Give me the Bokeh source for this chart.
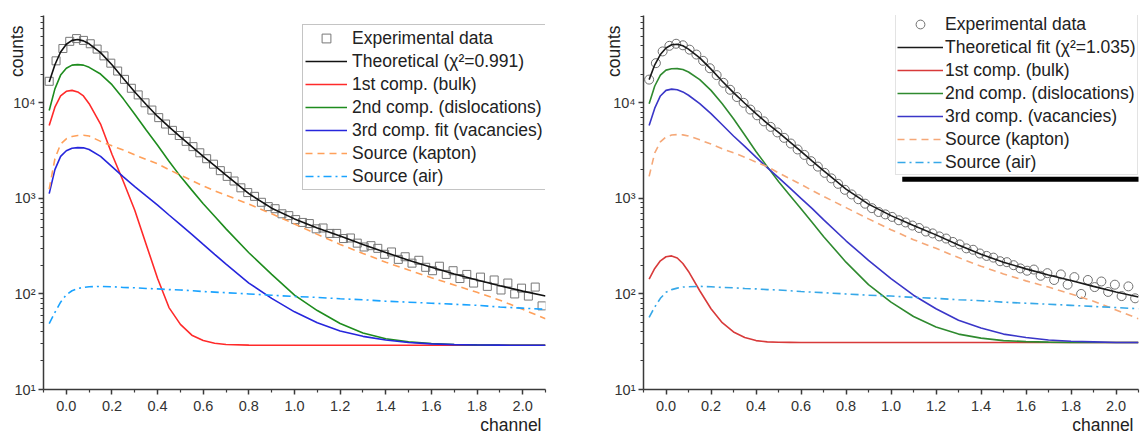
from bokeh.plotting import figure
from bokeh.layouts import row
from bokeh.models import Range1d, FixedTicker, BoxAnnotation, PrintfTickFormatter, Title
from bokeh.embed import file_html
from bokeh.resources import INLINE

# ---------------- data ----------------
comp_x = [-0.075, -0.05, -0.025, 0.0, 0.025, 0.05, 0.075, 0.1, 0.15, 0.2, 0.25, 0.3, 0.35,
          0.4, 0.45, 0.5, 0.55, 0.6, 0.65, 0.7, 0.8, 0.9, 1.0, 1.1, 1.2, 1.3, 1.4, 1.5, 1.6,
          1.7, 1.8, 1.9, 2.0, 2.1]

# left panel components
L_theory = [16500, 25000, 34000, 41000, 45000, 46000, 44500, 41500, 33500, 25000, 18000, 13000,
            9600, 7200, 5600, 4400, 3480, 2750, 2200, 1750, 1120, 790, 610, 490, 405, 330, 272,
            225, 190, 162, 140, 122, 107, 95]
L_bulk = [5800, 9000, 11800, 13200, 13500, 13000, 11800, 9800, 6000, 2900, 1500, 750, 330, 145,
          72, 48, 37, 32.5, 30.5, 29.6, 29.1, 29, 29, 29, 29, 29, 29, 29, 29, 29, 29, 29, 29, 29]
L_disl = [8300, 14000, 19500, 23000, 24800, 25100, 24800, 23500, 20000, 15500, 11000, 7600, 5200,
          3600, 2450, 1700, 1220, 880, 650, 480, 270, 160, 97, 67, 49, 39, 34, 31.5, 30.3, 29.6,
          29.3, 29.1, 29, 29]
L_vac = [1120, 2000, 2750, 3150, 3350, 3400, 3380, 3250, 2750, 2150, 1680, 1330, 1060, 850, 670,
         530, 420, 330, 260, 205, 130, 90, 65, 50, 41, 36, 33, 31, 30, 29.5, 29.2, 29.1, 29, 29]
L_kapton = [1250, 2600, 3700, 4200, 4450, 4550, 4570, 4500, 3950, 3550, 3200, 2850, 2550, 2300,
            2000, 1750, 1540, 1350, 1200, 1080, 870, 690, 540, 420, 330, 265, 215, 178, 148, 124,
            104, 86, 69, 55]
L_air = [49, 64, 82, 98, 108, 114, 117, 119, 120, 119, 117, 116, 114, 113, 111, 110, 108, 106,
         104.5, 103, 100, 97, 94, 92, 89, 87, 84, 82, 80, 78, 76, 73, 71, 69]

# right panel components
R_theory = [17500, 25000, 32000, 37500, 40500, 41000, 39500, 36500, 29500, 22500, 16800, 12800,
            9900, 7700, 6100, 4900, 3900, 3100, 2450, 1950, 1250, 870, 660, 520, 415, 325, 260,
            215, 183, 158, 138, 120, 105, 93]
R_bulk = [143, 185, 222, 245, 250, 238, 208, 172, 108, 70, 50, 40, 35, 32.5, 31.5, 31.2, 31.1,
          31, 31, 31, 31, 31, 31, 31, 31, 31, 31, 31, 31, 31, 31, 31, 31, 31]
R_disl = [9800, 15000, 19500, 22000, 22700, 22800, 22300, 21000, 17500, 13500, 9800, 6800, 4600,
          3100, 2150, 1500, 1080, 780, 560, 400, 215, 125, 82, 58, 45, 38, 34.5, 32.5, 31.7, 31.3,
          31.1, 31, 31, 31]
R_vac = [5800, 8800, 11800, 13500, 13900, 13700, 13000, 12000, 9800, 7700, 5900, 4500, 3500, 2700,
         2100, 1650, 1290, 1000, 780, 600, 360, 225, 145, 97, 70, 53, 44, 38, 35, 33, 32, 31.5,
         31, 31]
R_kapton = [1700, 3000, 3900, 4400, 4600, 4650, 4620, 4500, 4100, 3700, 3300, 3000, 2700, 2400,
            2150, 1850, 1610, 1400, 1210, 1050, 800, 610, 470, 370, 300, 240, 195, 162, 137, 118,
            100, 84, 68, 55]
R_air = [57, 73, 90, 104, 111, 115, 118, 119, 120, 119, 117, 116, 114, 113, 111, 110, 108, 106,
         104.5, 103, 100, 97, 95, 92, 90, 87, 85, 82, 80, 78, 76, 74, 72, 70]

# experimental points (channel positions)
exp_x = [-0.075, -0.045, -0.015, 0.015, 0.045, 0.075, 0.105, 0.135, 0.165, 0.195, 0.225, 0.255,
         0.285, 0.315, 0.345, 0.375, 0.405, 0.435, 0.465, 0.495, 0.525, 0.555, 0.585, 0.615,
         0.645, 0.675, 0.705, 0.735, 0.765, 0.795, 0.825, 0.855, 0.885, 0.915, 0.945, 0.975,
         1.005, 1.035, 1.065, 1.095, 1.125, 1.155, 1.185, 1.215, 1.245, 1.275, 1.305, 1.335,
         1.365, 1.395, 1.425, 1.455, 1.485, 1.515, 1.545, 1.575, 1.605, 1.635, 1.665, 1.695,
         1.725, 1.755, 1.785, 1.815, 1.845, 1.875, 1.905, 1.935, 1.965, 1.995, 2.025, 2.055,
         2.085]
L_exp = [16800, 27500, 37000, 44000, 47000, 45000, 41500, 36500, 31000, 26000, 21500, 17600,
         14200, 12100, 10000, 8400, 7000, 6000, 5150, 4550, 3950, 3480, 3000, 2600, 2280, 1950,
         1700, 1520, 1290, 1150, 1050, 910, 820, 780, 690, 660, 600, 560, 545, 480, 490, 430,
         430, 380, 385, 340, 310, 320, 300, 260, 275, 230, 245, 210, 225, 190, 175, 195, 160,
         175, 145, 160, 130, 150, 120, 140, 110, 130, 100, 115, 95, 118, 75]
R_exp = [17500, 26000, 34500, 39500, 41500, 40000, 36000, 32000, 27500, 23000, 19500, 16200,
         13700, 11500, 10000, 8500, 7400, 6400, 5600, 4900, 4300, 3750, 3250, 2850, 2450, 2150,
         1850, 1620, 1420, 1230, 1100, 980, 880, 790, 720, 680, 640, 590, 560, 520, 490, 450,
         430, 400, 380, 350, 330, 300, 290, 265, 250, 240, 220, 215, 200, 185, 175, 180, 155,
         165, 140, 160, 125, 150, 100, 140, 118, 135, 105, 125, 95, 120, 90]

x_major = [0.0, 0.2, 0.4, 0.6, 0.8, 1.0, 1.2, 1.4, 1.6, 1.8, 2.0]
x_minor = [-0.1, 0.1, 0.3, 0.5, 0.7, 0.9, 1.1, 1.3, 1.5, 1.7, 1.9, 2.1]
y_major = [10, 100, 1000, 10000]
y_minor = [m * d for d in (10, 100, 1000, 10000) for m in range(2, 10)]
y_labels = {10: "10\u00b9", 100: "10\u00b2", 1000: "10\u00b3", 10000: "10\u2074"}

L_labels = ["Experimental data", "Theoretical (\u03c7\u00b2=0.991)", "1st comp. (bulk)",
            "2nd comp. (dislocations)", "3rd comp. fit (vacancies)", "Source (kapton)",
            "Source (air)"]
R_labels = ["Experimental data", "Theoretical fit (\u03c7\u00b2=1.035)", "1st comp. (bulk)",
            "2nd comp. (dislocations)", "3rd comp. (vacancies)", "Source (kapton)",
            "Source (air)"]

FONT = "Liberation Sans"


def make_panel(width, border_left, border_right, x_end, y_top, exp_vals, marker, marker_size,
               marker_color, series, labels, colors, legend_loc, legend_glyph_w,
               legend_standoff, legend_border, legend_pad, counts_standoff, channel_offset):
    p = figure(width=width, height=435, x_range=Range1d(-0.1, x_end),
               y_range=Range1d(10, y_top), y_axis_type="log",
               output_backend="svg", toolbar_location=None,
               min_border_left=border_left, min_border_right=border_right,
               min_border_top=15, min_border_bottom=46,
               background_fill_color="white", border_fill_color="white")
    p.grid.visible = False
    p.outline_line_color = None

    p.scatter(exp_x, exp_vals, marker=marker, size=marker_size, fill_color=None,
              line_color=marker_color, line_width=1, legend_label=labels[0])

    dashes = ["solid", "solid", "solid", "solid", "7 5", "8 4 2 4"]
    for vals, lab, col, dash in zip(series, labels[1:], colors, dashes):
        p.line(comp_x, vals, line_color=col, line_width=1.6, line_dash=dash,
               legend_label=lab)

    for ax in (p.xaxis[0], p.yaxis[0]):
        ax.axis_line_color = "#3a3a3a"
        ax.axis_line_width = 1.5
        ax.major_tick_line_color = "#3a3a3a"
        ax.major_tick_line_width = 1.5
        ax.minor_tick_line_color = "#3a3a3a"
        ax.minor_tick_line_width = 1.2
        ax.major_tick_in = 0
        ax.major_tick_out = 5
        ax.minor_tick_in = 0
        ax.minor_tick_out = 3
        ax.major_label_text_font = FONT
        ax.major_label_text_font_size = "14.5px"
        ax.major_label_text_color = "#333333"

    p.xaxis.ticker = FixedTicker(ticks=x_major, minor_ticks=x_minor)
    p.xaxis.formatter = PrintfTickFormatter(format="%.1f")
    p.xaxis.major_label_standoff = 6
    p.yaxis.ticker = FixedTicker(ticks=y_major, minor_ticks=y_minor)
    p.yaxis.major_label_overrides = y_labels
    p.yaxis.major_label_standoff = 3

    # axis titles
    p.add_layout(Title(text="counts", align="right", vertical_align="bottom",
                       standoff=counts_standoff, offset=10, text_font=FONT,
                       text_font_size="17.5px", text_font_style="normal",
                       text_color="#222222"), "left")
    p.add_layout(Title(text="channel", align="right", vertical_align="bottom",
                       standoff=-1, offset=channel_offset, text_font=FONT,
                       text_font_size="17.5px", text_font_style="normal",
                       text_color="#222222"), "below")

    leg = p.legend[0]
    leg.location = legend_loc
    leg.margin = 0
    leg.padding = legend_pad
    leg.spacing = 1
    leg.glyph_width = legend_glyph_w
    leg.glyph_height = 22
    leg.label_height = 22
    leg.label_standoff = legend_standoff
    leg.label_text_font = FONT
    leg.label_text_font_size = "17.5px"
    leg.label_text_color = "#222222"
    leg.border_line_color = legend_border
    leg.border_line_width = 1.5
    leg.background_fill_color = "white"
    leg.background_fill_alpha = 1.0
    return p


p1 = make_panel(590, 43, 45, 2.1, 82000, L_exp, "square", 8, "#777777",
                [L_theory, L_bulk, L_disl, L_vac, L_kapton, L_air], L_labels,
                ["#111111", "#ff2a2a", "#1e8c1e", "#2626dc", "#ffa05a", "#1aa3ff"],
                (259, 199), 42, 5, "#8a8a8a", 2, -32, 4)

p2 = make_panel(554, 53, 6, 2.1, 82000, R_exp, "circle", 9, "#707070",
                [R_theory, R_bulk, R_disl, R_vac, R_kapton, R_air], R_labels,
                ["#1a1a1a", "#d83a3a", "#2f8a2f", "#3a36c8", "#f5a878", "#36a8e8"],
                (252, 214), 46, 2, "#c8c8c8", 1, -26, 5)

# drop shadow under the right legend box (decoration)
p2.add_layout(BoxAnnotation(left=1.05, right=2.3, bottom=1494, top=1685,
                            fill_color="black", fill_alpha=1.0, line_color=None))

layout = row(p1, p2)
open("out.html", "w").write(file_html(layout, INLINE))
